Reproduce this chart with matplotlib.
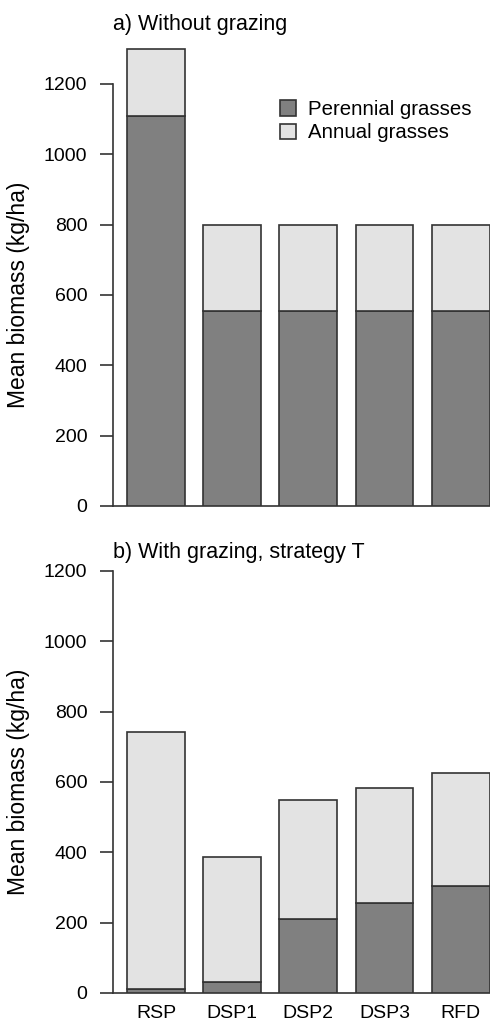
import matplotlib

matplotlib.use("Agg")
import matplotlib.pyplot as plt
import numpy as np

strategies = ["RSP", "DSP1", "DSP2", "DSP3", "RFD"]
perennial_no_grazing = [1110, 555, 555, 555, 555]
annual_no_grazing = [190, 245, 245, 245, 245]
perennial_grazing = [12, 31, 210, 255, 304]
annual_grazing = [730, 355, 339, 329, 321]

panel_titles = ["a) Without grazing", "b) With grazing, strategy T"]

PEREN_COLOR = "#808080"
ANNUAL_COLOR = "#e3e3e3"
EDGE = "#333333"

plt.rcParams["font.family"] = ["Liberation Sans", "DejaVu Sans"]

fig = plt.figure(figsize=(4.9, 10.22), dpi=100)
ax_top = fig.add_axes([0.2306, 0.5049, 0.7694, 0.4577])
ax_bot = fig.add_axes([0.2306, 0.0284, 0.7694, 0.4577])

x = np.arange(len(strategies))

# title heights in data units (top one sits above the axes, bottom one just over 1200)
title_y = [1368, 1251]

for ax, peren, annual, title, ty in [
    (ax_top, perennial_no_grazing, annual_no_grazing, panel_titles[0], title_y[0]),
    (ax_bot, perennial_grazing, annual_grazing, panel_titles[1], title_y[1]),
]:
    ax.bar(x, peren, width=0.76, color=PEREN_COLOR, edgecolor=EDGE,
           linewidth=1.2, label="Perennial grasses", zorder=3)
    ax.bar(x, annual, bottom=peren, width=0.76, color=ANNUAL_COLOR,
           edgecolor=EDGE, linewidth=1.2, label="Annual grasses", zorder=3)
    ax.set_xlim(-0.564, 4.385)
    ax.set_ylim(0, 1330)
    ax.set_yticks([0, 200, 400, 600, 800, 1000, 1200])
    ax.spines["top"].set_visible(False)
    ax.spines["right"].set_visible(False)
    ax.spines["left"].set_bounds(0, 1200)
    for s in ("left", "bottom"):
        ax.spines[s].set_color(EDGE)
        ax.spines[s].set_linewidth(1.2)
    ax.tick_params(axis="y", direction="out", length=9.4, width=1.2,
                   color=EDGE, pad=9, labelsize=14)
    ax.tick_params(axis="x", length=0, pad=9, labelsize=14)
    ax.set_ylabel("Mean biomass (kg/ha)", fontsize=16.5)
    ax.yaxis.set_label_coords(-0.22, 600 / 1330)
    ax.text(-0.56, ty, title, fontsize=15.5, ha="left", va="center",
            clip_on=False)

ax_top.set_xticks(x)
ax_top.set_xticklabels([])
ax_bot.set_xticks(x)
ax_bot.set_xticklabels(strategies)

ax_top.legend(loc="upper left", bbox_to_anchor=(0.416, 0.889), frameon=False,
              fontsize=14.7, handlelength=0.8, handleheight=0.8,
              handletextpad=0.55, labelspacing=0.2, borderpad=0)

fig.savefig("out.png", dpi=100)
